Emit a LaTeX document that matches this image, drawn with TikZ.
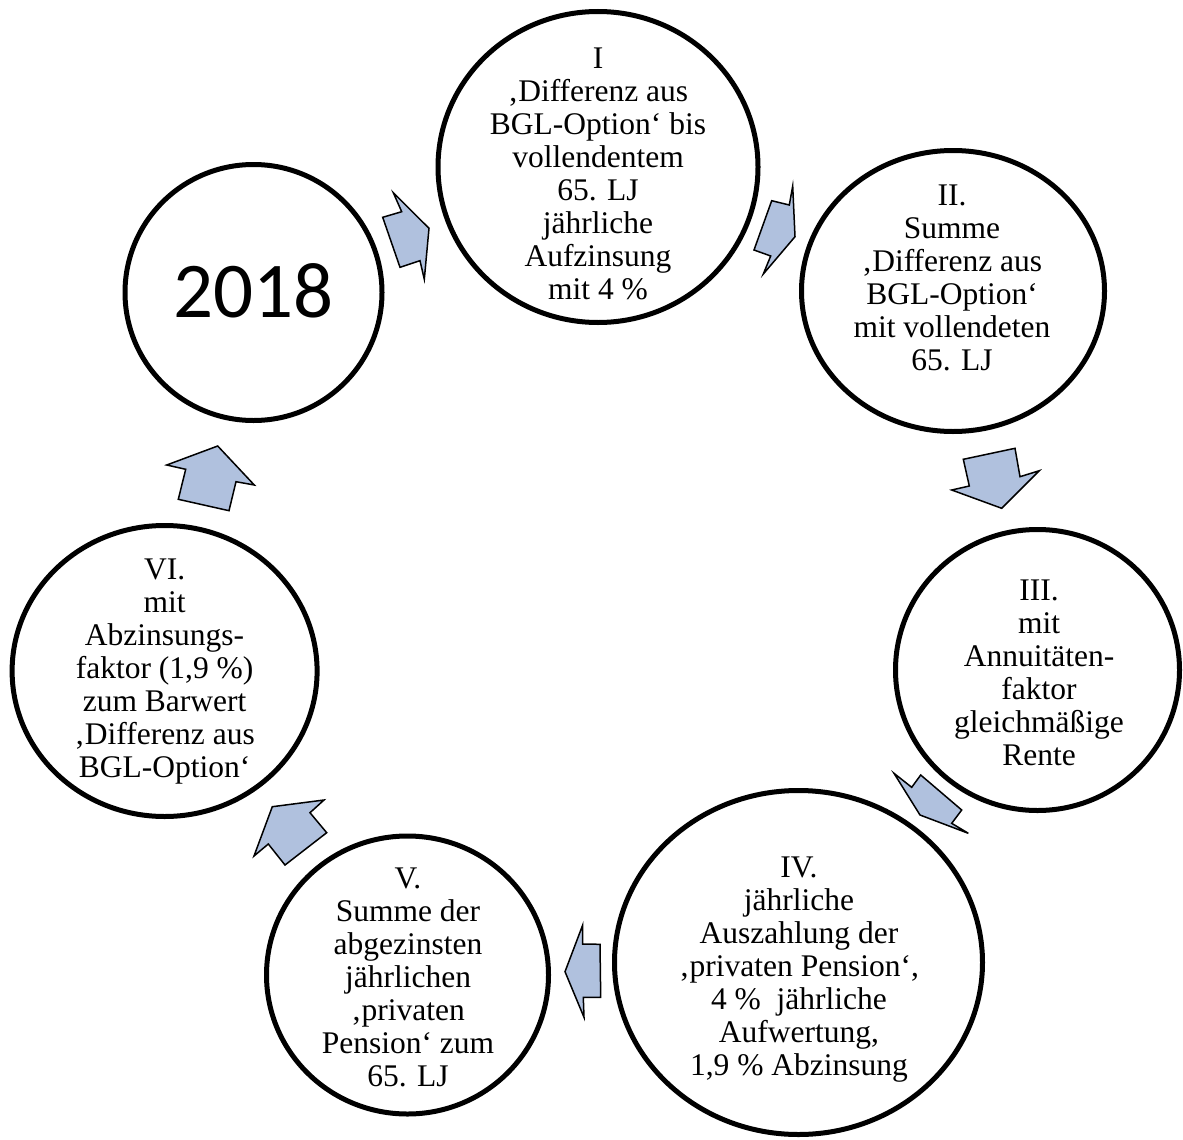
\documentclass[tikz,border=0pt]{standalone}
\usepackage{fontspec}
\setmainfont{Liberation Serif}
\newfontfamily\calib{Carlito}
\usetikzlibrary{shapes.geometric}
\definecolor{arrowblue}{RGB}{176,193,222}
\tikzset{
  ring/.style={draw=black, line width=5pt, ellipse, inner sep=0pt, fill=white},
  ringtext/.style={align=center, inner sep=0pt, font=\fontsize{31.5}{33}\selectfont},
  blockarrow/.style={draw=black, line width=1.5pt, fill=arrowblue, line join=miter}
}
\begin{document}
\begin{tikzpicture}[x=1pt,y=-1pt]
\useasboundingbox (0,0) rectangle (1183,1140);

% circles
\node[ring, minimum width=257pt, minimum height=256pt] (c0) at (253.5,292.5) {};
\node[ring, minimum width=320pt, minimum height=311pt] (c1) at (598,167) {};
\node[ring, minimum width=303pt, minimum height=281pt] (c2) at (953,291) {};
\node[ring, minimum width=284pt, minimum height=281pt] (c3) at (1037.5,670) {};
\node[ring, minimum width=368pt, minimum height=344pt] (c4) at (798.5,962.5) {};
\node[ring, minimum width=282pt, minimum height=278pt] (c5) at (407.5,975) {};
\node[ring, minimum width=305pt, minimum height=291pt] (c6) at (164.6,671) {};

% texts
\node[inner sep=0pt, font=\calib\fontsize{79}{79}\selectfont] (t0) at (253.5,291) {2018};
\node[ringtext] (t1) at (598,174) {I\\‚Differenz aus\\BGL-Option‘ bis\\vollendentem\\65. LJ\\jährliche\\Aufzinsung\\mit 4 \%};
\node[ringtext] (t2) at (952,278) {II.\\Summe\\‚Differenz aus\\BGL-Option‘\\mit vollendeten\\65. LJ};
\node[ringtext] (t3) at (1039,673) {III.\\mit\\Annuitäten-\\faktor\\gleichmäßige\\Rente};
\node[ringtext] (t4) at (799,970) {IV.\\jährliche\\Auszahlung der\\‚privaten Pension‘,\\4 \%\ \ jährliche\\Aufwertung,\\1,9 \% Abzinsung};
\node[ringtext] (t5) at (408,977) {V.\\Summe der\\abgezinsten\\jährlichen\\‚privaten\\Pension‘ zum\\65. LJ};
\node[ringtext] (t6) at (164.6,672) {VI.\\mit\\Abzinsungs-\\faktor (1,9 \%)\\zum Barwert\\‚Differenz aus\\BGL-Option‘};

% block arrows
% 2018 -> I
\draw[blockarrow] (382.7,217.3) -- (401.7,211.7) -- (393.3,192.7) -- (429,228.3) -- (424.3,279.3) -- (420,260.7) -- (400,267.3) -- cycle;
% I -> II
\draw[blockarrow] (771.7,200.7) -- (789.3,205) -- (792.7,186) -- (795,236.7) -- (763.3,274) -- (770.7,256) -- (754,250) -- cycle;
% II -> III
\draw[blockarrow] (963.3,459.3) -- (1015,448.3) -- (1020,476.7) -- (1039.3,470.7) -- (1001.7,508.3) -- (951.7,490) -- (969.3,486) -- cycle;
% III -> IV
\draw[blockarrow] (920.7,775) -- (961.7,810) -- (951.7,823.3) -- (968.3,833.3) -- (920,815) -- (894,773.3) -- (911.7,787.3) -- cycle;
% IV -> V
\draw[blockarrow] (600,944.3) -- (600.7,997.3) -- (583.3,997.3) -- (584,1017.3) -- (565,971.7) -- (582.7,925) -- (582.7,944) -- cycle;
% V -> VI
\draw[blockarrow] (285,865) -- (326.7,832.7) -- (310,812.7) -- (324,800) -- (272.3,806.7) -- (254,856) -- (268.3,844) -- cycle;
% VI -> 2018
\draw[blockarrow] (178.3,499.3) -- (229,510.7) -- (236,481.7) -- (254.3,485) -- (217.7,446) -- (166.7,465) -- (185.7,469.3) -- cycle;
\end{tikzpicture}
\end{document}
